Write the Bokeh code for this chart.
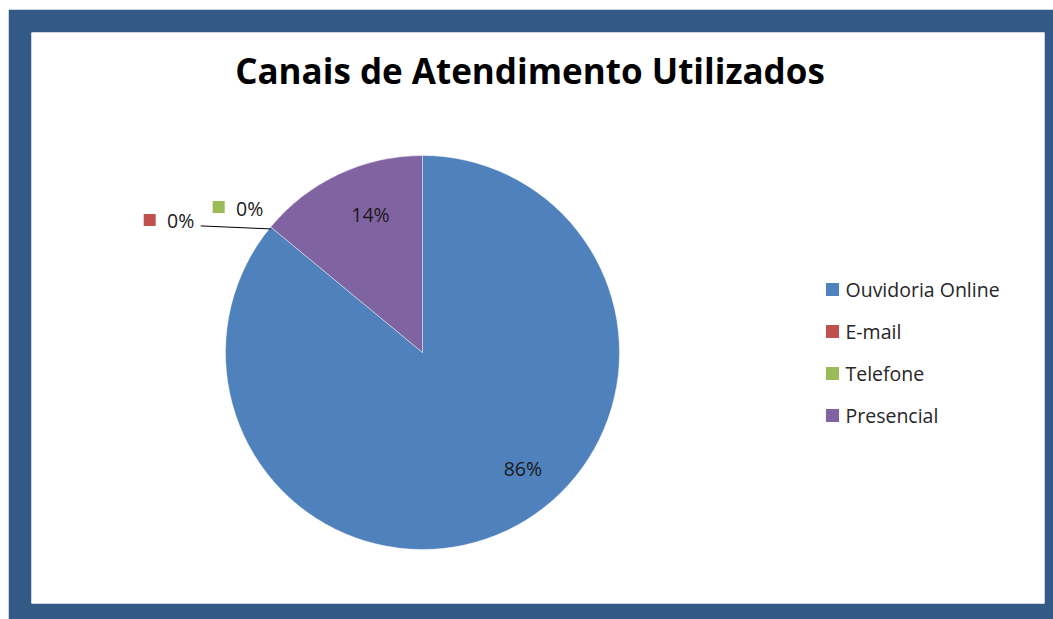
import math
from bokeh.plotting import figure
from bokeh.models import Range1d, ColumnDataSource
from bokeh.core.properties import value
from bokeh.embed import file_html
from bokeh.resources import INLINE

# ---- data ----
chart_title = "Canais de Atendimento Utilizados"
categories = ["Ouvidoria Online", "E-mail", "Telefone", "Presencial"]
shares = [86, 0, 0, 14]
colors = ["#4F81BD", "#C0504D", "#9BBB59", "#8064A2"]

# ---- layout / style ----
FONT = "Open Sans"
W, H = 1013, 571           # white plot frame size (px)
CX, CY, R = 391, 251, 197  # pie centre / radius in frame px (y up)

p = figure(width=1045, height=610,
           x_range=Range1d(0, W), y_range=Range1d(0, H),
           x_axis_type=None, y_axis_type=None,
           output_backend="svg", toolbar_location=None,
           min_border_left=23, min_border_right=9,
           min_border_top=23, min_border_bottom=16,
           border_fill_color="#335A87", background_fill_color="white",
           outline_line_color=None)
p.margin = (9, 0, 0, 8)
p.grid.visible = False

total = float(sum(shares))
fracs = [v / total for v in shares]
cum = [0.0]
for f in fracs:
    cum.append(cum[-1] + f)

def ang(c):
    # clockwise from 12 o'clock -> bokeh angle (ccw from +x)
    return math.pi / 2 - 2 * math.pi * c

ws = dict(x=[], y=[], s=[], e=[], c=[])
for i, v in enumerate(shares):
    if v > 0:
        ws["x"].append(CX); ws["y"].append(CY)
        ws["s"].append(ang(cum[i + 1])); ws["e"].append(ang(cum[i]))
        ws["c"].append(colors[i])
p.wedge(x="x", y="y", radius=R, start_angle="s", end_angle="e",
        direction="anticlock", fill_color="c", line_color="white",
        line_width=0.6, line_alpha=0.7, source=ColumnDataSource(ws))

# data labels
lab_radius = {0: 0.78, 3: 0.75}
lab_shift = {0: math.radians(15.6), 3: math.radians(-4.6)}
# zero-value label offsets from the slice edge point (text dx,dy ; key dx,dy)
zero_off = {1: (-90, 6, -121, 7), 2: (-21, 18.5, -52, 20)}

lx, ly, lt = [], [], []
kx, ky, kc = [], [], []
for i, v in enumerate(shares):
    txt = "%d%%" % round(100 * fracs[i])
    if v > 0:
        a = ang((cum[i] + cum[i + 1]) / 2) + lab_shift[i]
        rr = lab_radius[i] * R
        lx.append(CX + rr * math.cos(a)); ly.append(CY + rr * math.sin(a)); lt.append(txt)
    else:
        a = ang(cum[i])
        ex, ey = CX + R * math.cos(a), CY + R * math.sin(a)
        tdx, tdy, kdx, kdy = zero_off[i]
        lx.append(ex + tdx); ly.append(ey + tdy); lt.append(txt)
        kx.append(ex + kdx); ky.append(ey + kdy); kc.append(colors[i])

# leader line for the zero slices
a0 = ang(cum[1])
ex0, ey0 = CX + R * math.cos(a0), CY + R * math.sin(a0)
p.line([ex0, ex0 - 70], [ey0 - 2, ey0 + 1], line_color="black", line_width=1)

p.text(x=lx, y=ly, text=lt, text_align="center", text_baseline="middle",
       text_font=value(FONT), text_font_size="19.5px", text_color="#1a1a1a")
p.scatter(x=kx, y=ky, marker="square", size=12, fill_color=kc, line_color=None)

# title
p.text(x=[W / 2 - 8], y=[H - 37.5], text=[chart_title], text_align="center",
       text_baseline="middle", text_font=value(FONT), text_font_style="bold",
       text_font_size="35px", text_color="black")

# legend
leg_x, leg_y0, leg_dy = 801, 314, 42
gx = [leg_x] * len(categories)
gy = [leg_y0 - i * leg_dy for i in range(len(categories))]
p.scatter(x=gx, y=gy, marker="square", size=13, fill_color=colors, line_color=None)
p.text(x=[leg_x + 13] * len(categories), y=gy, text=categories,
       text_align="left", text_baseline="middle", text_font=value(FONT),
       text_font_size="19.5px", text_color="#262626")

open("out.html", "w").write(file_html(p, INLINE))
